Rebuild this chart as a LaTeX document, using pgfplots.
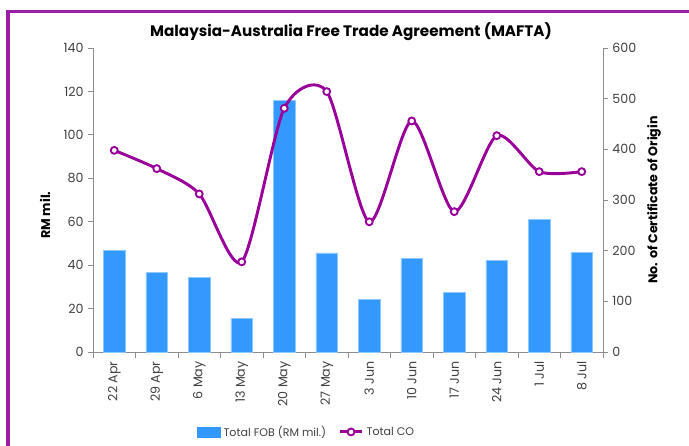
\documentclass[border=0pt]{standalone}
\usepackage{fontspec}
\setmainfont{Poppins}
\usepackage{pgfplots}
\pgfplotsset{compat=1.18}
\definecolor{barblue}{HTML}{3399FF}
\definecolor{copurple}{HTML}{990099}
\definecolor{framepurple}{HTML}{9B1FA6}
\definecolor{axgray}{HTML}{8C8C8C}
\definecolor{tickgray}{HTML}{404040}

\begin{document}
\begin{tikzpicture}
% picture is 689 x 446 px, 1 px = 0.75 pt
\useasboundingbox (0,0) rectangle (516.75pt,-334.5pt);
\draw[framepurple, line width=2.4pt] (6pt,-8.4pt) rectangle (560pt,-380pt);

\pgfplotsset{base/.style={
  at={(69.75pt,-264pt)}, anchor=south west,
  scale only axis, width=382.5pt, height=228pt,
  xmin=-0.5, xmax=11.5,
  axis line style={axgray, line width=0.6pt},
  tick style={axgray, line width=0.6pt},
  tick align=outside,
  major tick length=3.5pt,
  ticklabel style={font=\fontsize{9.5}{11}\selectfont, text=tickgray},
  /pgf/number format/assume math mode=true,
  clip=false,
}}

% ---------------- FOB bars (left axis) ----------------
\begin{axis}[base,
  axis x line*=bottom, axis y line*=left,
  ymin=0, ymax=140, ytick={0,20,...,140},
  xtick={0,...,11},
  xticklabels={22 Apr,29 Apr,6 May,13 May,20 May,27 May,3 Jun,10 Jun,17 Jun,24 Jun,1 Jul,8 Jul},
  xticklabel style={rotate=90, anchor=east},
  major x tick style={draw=none},
  minor xtick={-0.5,0.5,...,11.5},
  minor tick length=4.5pt,
  ylabel={RM mil.},
  every axis y label/.style={at={(axis description cs:-0.094,0.45)}, rotate=90, anchor=center,
    font=\bfseries\fontsize{9.5}{11}\selectfont},
  title={Malaysia-Australia Free Trade Agreement (MAFTA)},
  every axis title shift=0pt,
  title style={at={(axis description cs:0.506,1.053)}, anchor=center, font=\bfseries\fontsize{11.4}{13}\selectfont},
  legend columns=2,
  legend style={at={(axis description cs:0.204,-0.263)}, anchor=west, draw=none, fill=none,
    font=\fontsize{8.3}{10}\selectfont, text=tickgray, inner sep=0pt,
    /tikz/every even column/.append style={column sep=7pt}},
]
\addplot[ybar, bar width=16.3pt, fill=barblue, draw=barblue!55!white, line width=0.4pt,
  legend image code/.code={\fill[barblue] (0pt,-3.75pt) rectangle (17.25pt,3.75pt);}]
  coordinates {(0,46.8) (1,36.7) (2,34.4) (3,15.5) (4,115.8) (5,45.6)
               (6,24.4) (7,43.2) (8,27.6) (9,42.2) (10,61.1) (11,46.0)};
\addlegendentry{Total FOB (RM mil.)}
\addlegendimage{copurple, line width=2.2pt, mark=*, mark size=2.6pt,
  mark options={fill=white, draw=copurple, line width=1.4pt}}
\addlegendentry{Total CO}
\end{axis}

% ---------------- CO line (right axis) ----------------
\begin{axis}[base,
  axis y line*=right, axis x line=none,
  ymin=0, ymax=600, ytick={0,100,...,600},
  ylabel={No. of Certificate of Origin},
  every axis y label/.style={at={(axis description cs:1.1,0.5)}, rotate=90, anchor=center,
    font=\bfseries\fontsize{9.5}{11}\selectfont},
]
\addplot[copurple, line width=2.2pt, smooth, tension=0.45, mark=*, mark size=2.6pt,
  mark options={fill=white, draw=copurple, line width=1.4pt}]
  coordinates {(0,398) (1,362) (2,312) (3,178) (4,481) (5,514)
               (6,257) (7,456) (8,277) (9,427) (10,356) (11,356)};
\end{axis}
\end{tikzpicture}
\end{document}
